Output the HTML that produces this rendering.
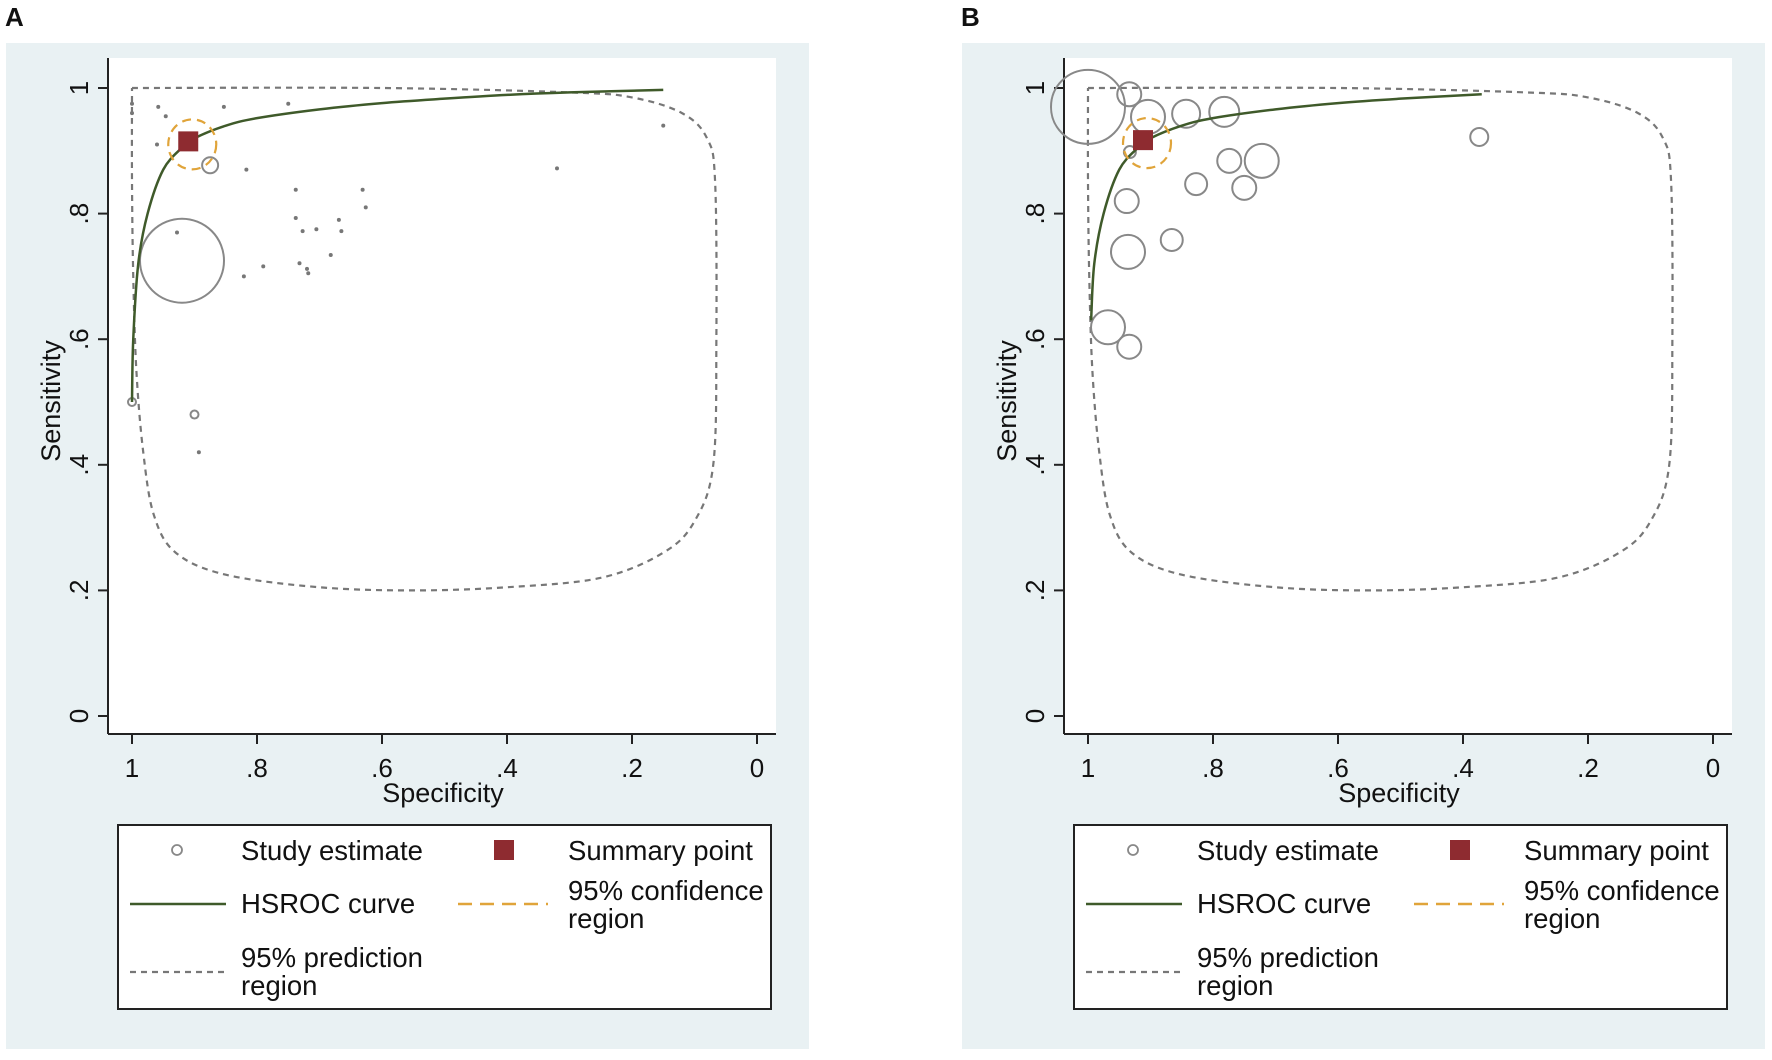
<!DOCTYPE html>
<html><head><meta charset="utf-8"><style>
body{margin:0;background:#fff;width:1772px;height:1055px;overflow:hidden}
svg text{font-family:"Liberation Sans",sans-serif;fill:#111}
</style></head><body>
<svg id="chart" width="1772" height="1055" xmlns="http://www.w3.org/2000/svg"></svg>
<script>
// Panel A data
const aStudySpec=[1,1,0.958,0.946,0.853,0.75,0.817,0.738,0.738,0.727,0.705,0.669,0.665,0.631,0.626,0.682,0.732,0.72,0.718,0.79,0.821,0.928,0.893,0.32,0.15,0.96,0.92,0.875,0.9,1];
const aStudySens=[0.975,0.96,0.97,0.955,0.97,0.975,0.87,0.838,0.793,0.772,0.775,0.79,0.772,0.838,0.81,0.734,0.721,0.712,0.705,0.716,0.7,0.77,0.42,0.872,0.94,0.91,0.725,0.877,0.48,0.5];
const aStudyR=[2,2,2,2,2,2,2,2,2,2,2,2,2,2,2,2,2,2,2,2,2,2,2,2,2,2,42,8,4,4];
const aSummary=[0.91,0.915];
const aCurveSpec=[1,0.998,0.99,0.975,0.95,0.92,0.9,0.85,0.8,0.7,0.6,0.5,0.4,0.3,0.15];
const aCurveSens=[0.5,0.6,0.72,0.8,0.87,0.905,0.92,0.94,0.952,0.966,0.976,0.983,0.989,0.993,0.997];
// Panel B data
const bStudySpec=[1,0.934,0.904,0.843,0.782,0.774,0.722,0.827,0.75,0.938,0.936,0.866,0.968,0.934,0.933,0.374];
const bStudySens=[0.97,0.99,0.954,0.959,0.962,0.884,0.884,0.847,0.841,0.82,0.739,0.758,0.619,0.588,0.898,0.922];
const bStudyR=[37,12,17,14,15,12,17,11,12,12,17,11,17,12,6,9];
const bSummary=[0.912,0.917];
const bCurveSpec=[0.995,0.99,0.975,0.95,0.92,0.9,0.85,0.8,0.7,0.6,0.5,0.37];
const bCurveSens=[0.63,0.72,0.8,0.87,0.905,0.92,0.94,0.952,0.966,0.976,0.983,0.99];
// Prediction region (shared shape)
const predSpec=[1,0.6,0.3,0.2,0.12,0.08,0.067,0.065,0.07,0.1,0.15,0.25,0.4,0.55,0.7,0.85,0.93,0.965,0.982,0.993,0.998,1,1];
const predSens=[1,1,0.993,0.985,0.96,0.92,0.85,0.6,0.4,0.31,0.26,0.22,0.205,0.2,0.205,0.225,0.26,0.32,0.42,0.55,0.7,0.85,1];
const yTicks=[0,0.2,0.4,0.6,0.8,1];
const yTickLabels=["0",".2",".4",".6",".8","1"];
const xTicks=[1,0.8,0.6,0.4,0.2,0];
const xTickLabels=["1",".8",".6",".4",".2","0"];

const svg=document.getElementById('chart');
const NS='http://www.w3.org/2000/svg';
function mk(tag,attrs,parent){const e=document.createElementNS(NS,tag);for(const k in attrs)e.setAttribute(k,attrs[k]);(parent||svg).appendChild(e);return e;}
function smooth(pts){let d='M'+pts[0][0]+','+pts[0][1];for(let i=0;i<pts.length-1;i++){const p0=pts[Math.max(i-1,0)],p1=pts[i],p2=pts[i+1],p3=pts[Math.min(i+2,pts.length-1)];const c1=[p1[0]+(p2[0]-p0[0])/6,p1[1]+(p2[1]-p0[1])/6],c2=[p2[0]-(p3[0]-p1[0])/6,p2[1]-(p3[1]-p1[1])/6];d+=' C'+c1+' '+c2+' '+p2;}return d;}

function panel(off,letter,sSpec,sSens,sR,summ,cSpec,cSens){
  const sx=s=>off+132+(1-s)*625, sy=v=>716-v*628;
  const g=mk('g',{});
  
  
  const bg=mk('rect',{x:off+6,y:43,width:803,height:1006,fill:'#e9f1f3'},g);
  
  const pa=mk('rect',{x:off+108,y:58,width:668,height:676,fill:'#fff'},g);
  
  const lt=mk('text',{x:off+5,y:26,'font-size':26,'font-weight':'bold'},g);lt.textContent=letter;
  
  const ya=mk('line',{x1:off+108,y1:58,x2:off+108,y2:734,stroke:'#222','stroke-width':2},g);
  
  const xa=mk('line',{x1:off+108,y1:734,x2:off+776,y2:734,stroke:'#222','stroke-width':2},g);
  
  yTicks.forEach((v,i)=>{mk('line',{x1:off+98,y1:sy(v),x2:off+108,y2:sy(v),stroke:'#222','stroke-width':2},g);
    const t=mk('text',{x:0,y:0,'font-size':26,'text-anchor':'middle',transform:`translate(${off+88},${sy(v)}) rotate(-90)`},g);t.textContent=yTickLabels[i];
    });
  xTicks.forEach((v,i)=>{mk('line',{x1:sx(v),y1:734,x2:sx(v),y2:744,stroke:'#222','stroke-width':2},g);
    const t=mk('text',{x:sx(v),y:777,'font-size':26,'text-anchor':'middle'},g);t.textContent=xTickLabels[i];
    });
  const xt=mk('text',{x:off+443,y:802,'font-size':27,'text-anchor':'middle'},g);xt.textContent='Specificity';
  
  const yt=mk('text',{x:0,y:0,'font-size':27,'text-anchor':'middle',transform:`translate(${off+60},${401}) rotate(-90)`},g);yt.textContent='Sensitivity';
  
  const pr=mk('path',{d:smooth(predSpec.map((s,i)=>[sx(s),sy(predSens[i])])),fill:'none',stroke:'#777','stroke-width':2.2,'stroke-dasharray':'6,5'},g);
  
  sSpec.forEach((s,i)=>{const r=sR[i];const c=mk('circle',{cx:sx(s),cy:sy(sSens[i]),r:r,fill:r<=2?'#777':'none',stroke:'#888','stroke-width':r<=2?0:2},g);
    });
  const cv=mk('path',{d:smooth(cSpec.map((s,i)=>[sx(s),sy(cSens[i])])),fill:'none',stroke:'#3f5a2a','stroke-width':2.5},g);
  
  const ce=mk('ellipse',{cx:sx(summ[0])+4,cy:sy(summ[1])+3,rx:24,ry:25,fill:'none',stroke:'#e0a43a','stroke-width':2.2,'stroke-dasharray':'9,6'},g);
  
  const sp=mk('rect',{x:sx(summ[0])-10,y:sy(summ[1])-10,width:20,height:20,fill:'#8e2b30'},g);
  
  const lg=mk('g',{},g);
  mk('rect',{x:off+118,y:825,width:653,height:184,fill:'#fff',stroke:'#222','stroke-width':2},lg);
  mk('circle',{cx:off+177,cy:850,r:5,fill:'none',stroke:'#888','stroke-width':1.8},lg);
  mk('rect',{x:off+494,y:840,width:20,height:20,fill:'#8e2b30'},lg);
  mk('line',{x1:off+130,y1:904,x2:off+226,y2:904,stroke:'#3f5a2a','stroke-width':2.5},lg);
  mk('line',{x1:off+458,y1:904,x2:off+548,y2:904,stroke:'#e0a43a','stroke-width':2.5,'stroke-dasharray':'14,8'},lg);
  mk('line',{x1:off+130,y1:972,x2:off+226,y2:972,stroke:'#777','stroke-width':2.2,'stroke-dasharray':'6,5'},lg);
  [['Study estimate',241,860],['Summary point',568,860],['HSROC curve',241,913],['95% confidence',568,900],['region',568,928],['95% prediction',241,967],['region',241,995]].forEach(a=>{
    const t=mk('text',{x:off+a[1],y:a[2],'font-size':27.5},lg);t.textContent=a[0];
    });
}
panel(0,'A',aStudySpec,aStudySens,aStudyR,aSummary,aCurveSpec,aCurveSens);
panel(956,'B',bStudySpec,bStudySens,bStudyR,bSummary,bCurveSpec,bCurveSens);
</script>
</body></html>
